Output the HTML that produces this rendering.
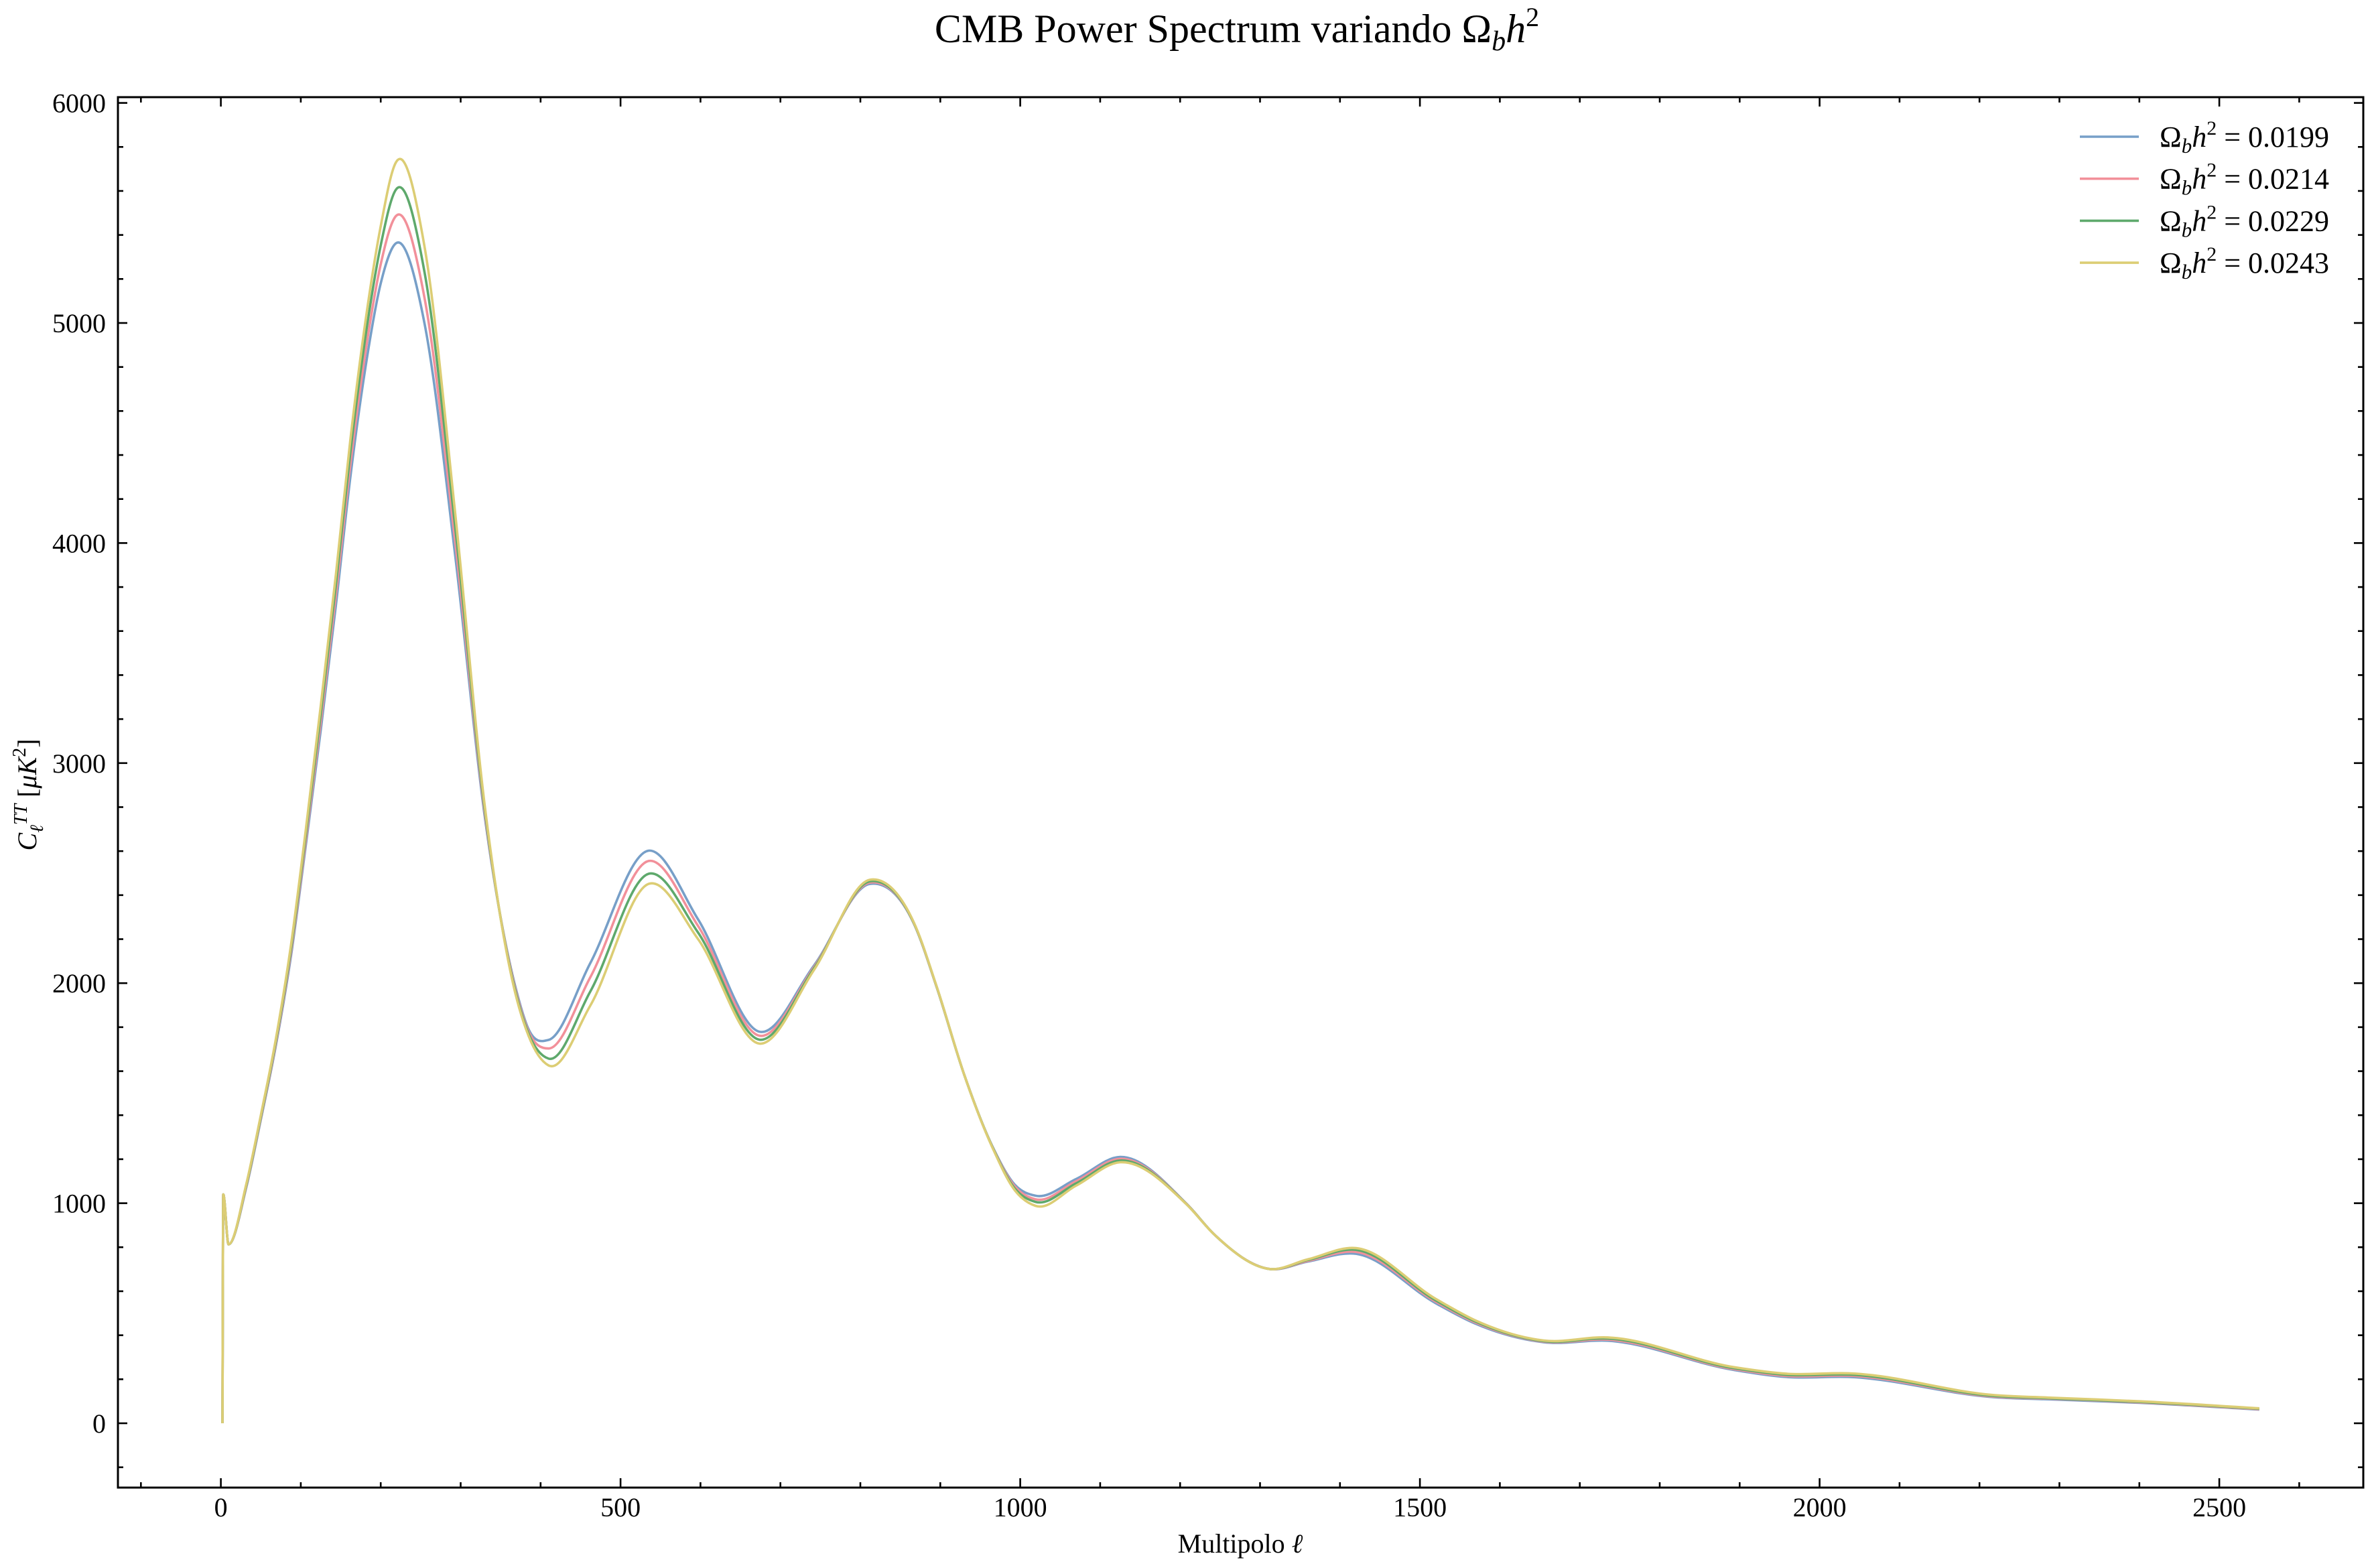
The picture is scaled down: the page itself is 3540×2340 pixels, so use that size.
<!DOCTYPE html>
<html><head><meta charset="utf-8">
<style>
html,body{margin:0;padding:0;background:#fff;}
svg{display:block;font-family:"Liberation Serif","DejaVu Serif",serif;}
</style></head>
<body>
<svg id="chart" width="3540" height="2340" viewBox="0 0 3540 2340" xmlns="http://www.w3.org/2000/svg">
<rect width="3540" height="2340" fill="#fff"/>
<text x="1846" y="63" font-size="60" text-anchor="middle">CMB Power Spectrum variando Ω<tspan font-style="italic" font-size="42" dy="12">b</tspan><tspan font-style="italic" dy="-12">h</tspan><tspan font-size="40" dy="-24">2</tspan></text>
<g id="series"></g>
<g id="ticks"></g>
<rect x="176" y="145" width="3351" height="2075" fill="none" stroke="#000" stroke-width="3"/>
<text x="1851" y="2317" font-size="40" text-anchor="middle">Multipolo <tspan font-style="italic">ℓ</tspan></text>
<text transform="translate(54,1186) rotate(-90)" font-size="40" text-anchor="middle"><tspan font-style="italic">C</tspan><tspan font-size="28" font-style="italic" dy="10">ℓ</tspan><tspan font-size="28" font-style="italic" dy="-24">TT</tspan><tspan dy="14"> [</tspan><tspan font-style="italic">μK</tspan><tspan font-size="28" dy="-16">2</tspan><tspan dy="16">]</tspan></text>
<g id="legend"></g>
</svg>
<script>
const ells = [2, 3, 9.6, 32, 50, 69, 88, 106, 125, 144, 162, 181, 200, 219, 255, 293, 330, 368, 385, 410, 462, 535, 597, 674, 742, 812, 867, 895, 930, 965, 993, 1019, 1070, 1125, 1208, 1243, 1312, 1360, 1420, 1520, 1568, 1655, 1735, 1893, 1959, 2038, 2219, 2291, 2400, 2550];
const cl0199 = [0,1040,813,1075,1380,1720,2130,2620,3150,3720,4300,4800,5180,5362,4994,3949,2760,1990,1790,1742,2090,2602,2290,1779,2080,2451,2270,1987,1583,1260,1085,1034,1110,1210,998,857,701,735,770,545,455,368,375,242,210,210,118,108,93,62];
const cl0214 = [0,1040,813,1080,1387,1730,2147,2643,3187,3767,4357,4870,5267,5486,5110,4013,2777,1980,1780,1703,2026,2555,2260,1761,2073,2457,2272,1988,1583,1258,1077,1018,1100,1202,997,857,701,738,779,552,460,371,380,246,215,216,121,111,95,64];
const cl0229 = [0,1040,813,1085,1393,1740,2163,2667,3223,3813,4413,4940,5353,5606,5227,4078,2793,1970,1770,1657,1961,2497,2230,1743,2067,2463,2273,1989,1583,1257,1068,1006,1090,1194,996,857,701,742,788,558,465,373,385,250,220,221,124,113,97,66];
const cl0243 = [0,1040,813,1090,1400,1750,2180,2690,3260,3860,4470,5010,5440,5730,5343,4142,2810,1960,1760,1626,1897,2451,2200,1725,2060,2470,2275,1990,1583,1255,1060,988,1080,1186,995,857,701,745,796,565,470,376,390,255,225,227,128,116,100,68];
const seriesLabels = ["0.0199","0.0214","0.0229","0.0243"];
const seriesColors = ["#779fc8","#f2909a","#5ea96c","#dccd74"];
const xMajorTicks = [0,500,1000,1500,2000,2500];
const yMajorTicks = [0,1000,2000,3000,4000,5000,6000];

const NS = "http://www.w3.org/2000/svg";
function xs(l){ return 329.6 + l*1.193; }
function ys(v){ return 2124 - v*0.3284; }

function smoothPath(xa, ya){
  const n = xa.length, d=[], h=[], m=new Array(n);
  for(let i=0;i<n-1;i++){ h.push(xa[i+1]-xa[i]); d.push((ya[i+1]-ya[i])/h[i]); }
  m[0]=d[0]; m[n-1]=d[n-2];
  for(let i=1;i<n-1;i++){
    m[i] = (d[i-1]*h[i] + d[i]*h[i-1])/(h[i-1]+h[i]);
    if(i<4 && d[i-1]*d[i] <= 0) m[i]=0;
  }
  for(let i=0;i<4;i++){
    if(d[i]===0){m[i]=0;m[i+1]=0;continue;}
    const a=m[i]/d[i], b=m[i+1]/d[i], s=a*a+b*b;
    if(s>9){const t=3/Math.sqrt(s); m[i]=t*a*d[i]; m[i+1]=t*b*d[i];}
  }
  let p = "M"+xs(xa[0]).toFixed(1)+","+ys(ya[0]).toFixed(1);
  for(let i=0;i<n-1;i++){
    const hh=h[i];
    const c1x=xa[i]+hh/3, c1y=ya[i]+m[i]*hh/3, c2x=xa[i+1]-hh/3, c2y=ya[i+1]-m[i+1]*hh/3;
    p += " C"+xs(c1x).toFixed(1)+","+ys(c1y).toFixed(1)+" "+xs(c2x).toFixed(1)+","+ys(c2y).toFixed(1)+" "+xs(xa[i+1]).toFixed(1)+","+ys(ya[i+1]).toFixed(1);
  }
  return p;
}

const allSeries = [cl0199, cl0214, cl0229, cl0243];
const sg = document.getElementById("series");
allSeries.forEach((vals, k) => {
  const path = document.createElementNS(NS,"path");
  path.setAttribute("d", smoothPath(ells, vals));
  path.setAttribute("fill","none");
  path.setAttribute("stroke", seriesColors[k]);
  path.setAttribute("stroke-width","3.6");
  path.setAttribute("stroke-linejoin","round");
  
  
  sg.appendChild(path);
});

const tg = document.getElementById("ticks");
function addLine(x1,y1,x2,y2,name){
  const l=document.createElementNS(NS,"line");
  l.setAttribute("x1",x1);l.setAttribute("y1",y1);l.setAttribute("x2",x2);l.setAttribute("y2",y2);
  l.setAttribute("stroke","#000");l.setAttribute("stroke-width","2.6");
  
  
  tg.appendChild(l);
}
function addLabel(x,y,txt,anchor,name){
  const t=document.createElementNS(NS,"text");
  t.setAttribute("x",x);t.setAttribute("y",y);t.setAttribute("font-size","40");
  t.setAttribute("text-anchor",anchor);t.textContent=txt;
  
  
  tg.appendChild(t);
}
const pTop=145, pBot=2220, pLeft=176, pRight=3527;
for(let v=-100; v<=2600; v+=100){
  const x=xs(v); if(x<pLeft||x>pRight) continue;
  const major = xMajorTicks.includes(v);
  const L = major?14:8;
  addLine(x,pBot,x,pBot-L,"x-tick");
  addLine(x,pTop,x,pTop+L,"x-tick-top");
}
xMajorTicks.forEach(v=>addLabel(xs(v),2263,String(v),"middle","x-tick-label"));
for(let v=-200; v<=6000; v+=200){
  const y=ys(v); if(y<pTop||y>pBot) continue;
  const major = yMajorTicks.includes(v);
  const L = major?14:8;
  addLine(pLeft,y,pLeft+L,y,"y-tick");
  addLine(pRight,y,pRight-L,y,"y-tick-right");
}
yMajorTicks.forEach(v=>addLabel(158,ys(v)+14,String(v),"end","y-tick-label"));

const lg = document.getElementById("legend");
seriesLabels.forEach((lab,k)=>{
  const cy = 204 + k*62.7;
  const l=document.createElementNS(NS,"line");
  l.setAttribute("x1",3104);l.setAttribute("x2",3192);l.setAttribute("y1",cy);l.setAttribute("y2",cy);
  l.setAttribute("stroke",seriesColors[k]);l.setAttribute("stroke-width","3.6");
  
  
  lg.appendChild(l);
  const t=document.createElementNS(NS,"text");
  t.setAttribute("x",3223);t.setAttribute("y",cy+15);t.setAttribute("font-size","44");
  t.innerHTML = 'Ω<tspan font-style="italic" font-size="31" dy="9">b</tspan><tspan font-style="italic" dy="-9">h</tspan><tspan font-size="30" dy="-18">2</tspan><tspan dy="18"> = '+lab+'</tspan>';
  
  
  lg.appendChild(t);
});
</script>
</body></html>
